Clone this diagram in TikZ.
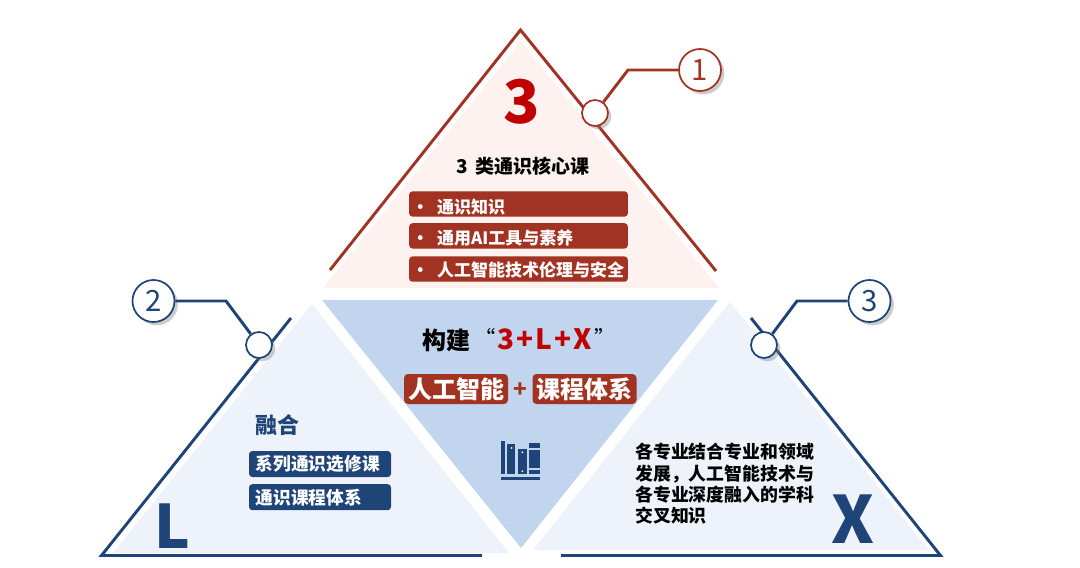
\documentclass[tikz,border=0pt]{standalone}
\usepackage{fontspec}
\setmainfont{Noto Sans CJK SC}
\usetikzlibrary{positioning}
\usetikzlibrary{shadows}
\definecolor{brickred}{HTML}{A23322}
\definecolor{deepred}{HTML}{C00000}
\definecolor{navy}{HTML}{1F4478}
\definecolor{palered}{HTML}{FDF2F0}
\definecolor{paleblue}{HTML}{EEF3FB}
\definecolor{midblue}{HTML}{C2D5EE}
\tikzset{
	edgeline/.style={line width=2.2pt},
	smalldot/.style={circle,draw,fill=white,line width=1.3pt,minimum size=19.5pt,inner sep=0pt,
		drop shadow={shadow xshift=2.5pt,shadow yshift=-2.5pt,opacity=0.4}},
	numdot/.style={circle,draw,fill=white,line width=1.3pt,minimum size=31.5pt,inner sep=0pt,
		font=\fontsize{22}{22}\selectfont,text=#1,
		drop shadow={shadow xshift=2.5pt,shadow yshift=-2.5pt,opacity=0.4}},
	listbox/.style={rounded corners=2.5pt,fill=brickred,text=white,font=\fontsize{12.75}{13}\bfseries,
		minimum height=19pt,text width=160pt,inner xsep=2pt,inner ysep=0pt,align=left,
		text height=#1,text depth=0pt},
	tagbox/.style={rounded corners=3pt,fill=brickred,text=white,font=\fontsize{18}{18}\bfseries,
		minimum height=22.5pt,minimum width=78pt,inner sep=0pt},
	lbox/.style={rounded corners=2.5pt,fill=navy,text=white,font=\fontsize{13.3}{14}\bfseries,
		minimum height=19.5pt,text width=96.5pt,inner xsep=5pt,inner ysep=0pt,align=left},
	bigletter/.style={font=\fontsize{45}{45}\bfseries,inner sep=0pt},
	book/.style={fill=navy,draw=none},
}
\newcommand{\listdot}{\makebox[19pt][l]{•}}
\begin{document}
\begin{tikzpicture}[x=0.75pt,y=-0.75pt]
	\useasboundingbox (0,0) rectangle (1080,567);
	% top triangle
	\fill[palered] (521,41) -- (719,288) -- (323,288) -- cycle;
	\coordinate (topl) at (330,270);
	\coordinate (topa) at (520.5,30);
	\coordinate (topr) at (716,271);
	\draw[brickred,edgeline] (topl) -- (topa) -- (topr);
	% left and right triangles
	\fill[paleblue] (312,304) -- (509,553) -- (113,553) -- cycle;
	\fill[paleblue] (730,302) -- (929,550) -- (533,550) -- cycle;
	\fill[midblue] (322,300) -- (718,300) -- (521,548) -- cycle;
	\coordinate (leftt) at (291,318);
	\coordinate (leftb) at (101.5,555.5);
	\coordinate (leftr) at (482,555.5);
	\draw[navy,edgeline] (leftt) -- (leftb) -- (leftr);
	\coordinate (rightt) at (751,318);
	\coordinate (rightb) at (940.5,555.5);
	\coordinate (rightl) at (561,555.5);
	\draw[navy,edgeline] (rightt) -- (rightb) -- (rightl);
	% callouts
	\coordinate (bendone) at (628,70);
	\coordinate (bendtwo) at (226,301);
	\coordinate (bendthree) at (797,301);
	\node[numdot=brickred,draw=brickred] (numone) at (700,70) {1};
	\node[numdot=navy,draw=navy] (numtwo) at (153.5,301) {2};
	\node[numdot=navy,draw=navy] (numthree) at (869.5,301) {3};
	\node[smalldot,draw=brickred] (dotone) at (595,113) {};
	\node[smalldot,draw=navy] (dottwo) at (259,345) {};
	\node[smalldot,draw=navy] (dotthree) at (764,345) {};
	\draw[brickred,edgeline] (dotone) -- (bendone) -- (numone);
	\draw[navy,edgeline] (dottwo) -- (bendtwo) -- (numtwo);
	\draw[navy,edgeline] (dotthree) -- (bendthree) -- (numthree);
	% top content
	\node[bigletter,text=deepred] (three) at (522,102) {3};
	\node[font=\fontsize{14.25}{15}\bfseries] (coretitle) at (523,166) {3\hspace{2pt} 类通识核心课};
	\node[listbox=14.8pt] (know) at (518.5,204) {\listdot 通识知识};
	\node[listbox=12.6pt,below=4.5pt of know] (tools) {\listdot 通用AI工具与素养};
	\node[listbox=10.4pt,below=5.5pt of tools] (ethics) {\listdot 人工智能技术伦理与安全};
	% centre content
	\node[font=\fontsize{18}{18}\bfseries,anchor=west,inner sep=0pt] (build) at (422,340)
		{构建};
	\node[font=\fontsize{21}{22}\bfseries,text=deepred,inner sep=0pt] (formula) at (545,339)
		{3\kern1.5pt+\kern1.5pt L\kern1.5pt+\kern1.5pt X};
	\node[font=\fontsize{16}{16}\selectfont,left=1pt of formula,yshift=1pt,inner sep=0pt] (openq) {“};
	\node[font=\fontsize{16}{16}\selectfont,right=1pt of formula,yshift=1pt,inner sep=0pt] (closeq) {”};
	\node[tagbox] (aibox) at (456,389) {人工智能};
	\node[tagbox] (coursebox) at (584.5,389) {课程体系};
	\node[font=\fontsize{17}{17}\bfseries,text=brickred,inner sep=0pt] (plus) at (520,390) {+};
	% books
	\fill[book] (500.7,476.7) rectangle (540,480);
	\fill[book] (500.7,440.7) rectangle (505,474.3);
	\fill[book] (507.3,444) rectangle (515.3,474.3);
	\fill[book] (518,449) rectangle (527,474.3);
	\fill[book] (529.3,443.3) rectangle (540,447.7);
	\fill[book] (529.3,450.3) rectangle (540,467.7);
	\fill[book] (529.3,470) rectangle (540,474.3);
	\fill[white] (511.7,448) circle (1);
	\fill[white] (522.3,452.3) circle (1);
	\fill[white] (522.3,471.3) circle (1);
	% left content
	\node[font=\fontsize{16.5}{17}\bfseries,text=navy,inner sep=0pt] (merge) at (277,425) {融合};
	\node[lbox] (elective) at (320,464) {系列通识选修课};
	\node[lbox,below=5pt of elective] (system) {通识课程体系};
	\node[bigletter,text=navy] (lletter) at (172,526) {L};
	% right content
	\node[font=\fontsize{13.4}{16}\bfseries,anchor=north west,align=left,inner sep=0pt] (xtext) at (635,443)
		{各专业结合专业和领域\\发展，人工智能技术与\\各专业深度融入的学科\\交叉知识};
	\node[font=\fontsize{49}{49}\bfseries,inner sep=0pt,text=navy] (xletter) at (853,519) {X};
\end{tikzpicture}
\end{document}
